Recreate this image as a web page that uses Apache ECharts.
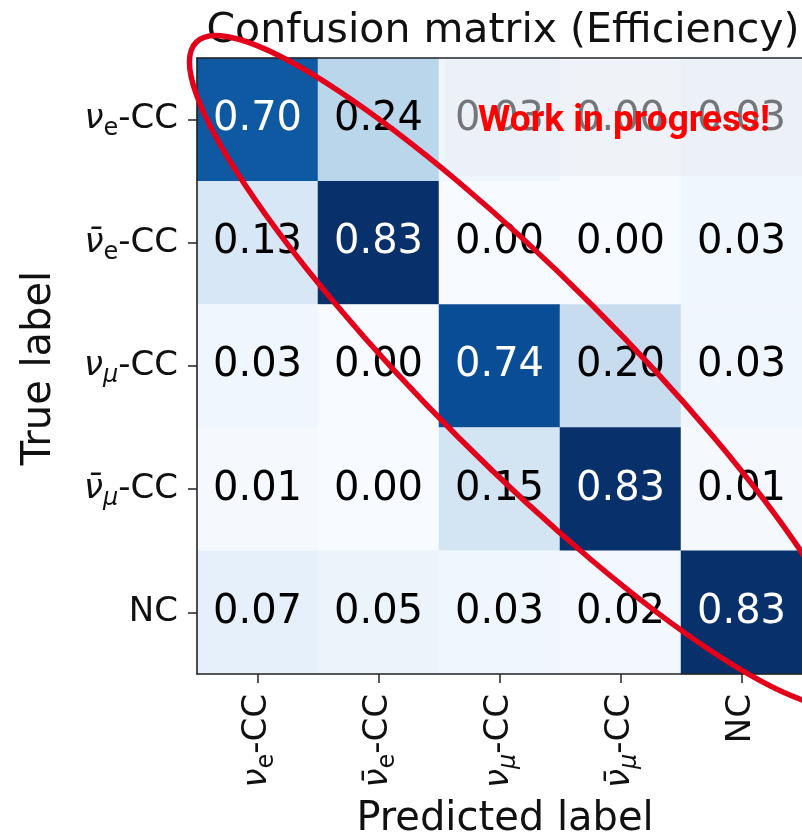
<!DOCTYPE html>
<html>
<head>
<meta charset="utf-8">
<script src="https://cdn.jsdelivr.net/npm/echarts@6/dist/echarts.min.js"></script>
<style>
  html, body { margin: 0; padding: 0; background: #ffffff; }
  #chart { width: 802px; height: 840px; }
</style>
</head>
<body>
<div id="chart"></div>
<script>
// Event classes (same order on both axes)
const classes = ['nue-CC', 'nuebar-e-CC', 'numu-CC', 'numubar-CC', 'NC'];
const classLabels = [
  '{nu|ν}{sub|e}{t|-CC}',
  '{nu|ν\u0304}{sub|e}{t|-CC}',
  '{nu|ν}{subi|μ}{t|-CC}',
  '{nu|ν\u0304}{subi|μ}{t|-CC}',
  '{t|NC}'
];

// Efficiency per true class (rows), predicted class in columns
const rowNueCC     = [0.70, 0.24, 0.03, 0.00, 0.03];
const rowNuebarCC  = [0.13, 0.83, 0.00, 0.00, 0.03];
const rowNumuCC    = [0.03, 0.00, 0.74, 0.20, 0.03];
const rowNumubarCC = [0.01, 0.00, 0.15, 0.83, 0.01];
const rowNC        = [0.07, 0.05, 0.03, 0.02, 0.83];

const titleText = 'Confusion matrix (Efficiency)';
const xName = 'Predicted label';
const yName = 'True label';
const stampText = 'Work in progress!';

// "Blues" colour ramp
const blues = ['#f7fbff', '#deebf7', '#c6dbef', '#9ecae1', '#6baed6',
               '#4292c6', '#2171b5', '#08519c', '#08306b'];

const rows = [rowNueCC, rowNuebarCC, rowNumuCC, rowNumubarCC, rowNC];
const vmax = Math.max(...rows.flat());
const cells = [];
rows.forEach((r, i) => r.forEach((v, j) => {
  cells.push({ value: [j, i, v], label: { color: v > vmax / 2 ? '#ffffff' : '#000000' } });
}));

const FONT = 'DejaVu Sans';
const tickRich = {
  nu:   { fontFamily: FONT, fontStyle: 'italic', fontSize: 34, color: '#111' },
  sub:  { fontFamily: FONT, fontSize: 24, padding: [19, 0, 0, 0], color: '#111' },
  subi: { fontFamily: FONT, fontStyle: 'italic', fontSize: 24, padding: [19, 0, 0, 0], color: '#111' },
  t:    { fontFamily: FONT, fontSize: 34, color: '#111' }
};
const spine = { show: true, lineStyle: { color: '#222', width: 1.6 } };
const ticks = { show: true, alignWithLabel: true, length: 9, inside: false, lineStyle: { color: '#222', width: 1.5 } };

const chart = echarts.init(document.getElementById('chart'), null, { renderer: 'canvas' });
chart.setOption({
  animation: false,
  backgroundColor: '#ffffff',
  grid: { left: 197, top: 58, width: 615, height: 616, containLabel: false },
  xAxis: [{
    type: 'category', data: classes, position: 'bottom', z: 10,
    axisLine: spine, axisTick: ticks, splitLine: { show: false },
    axisLabel: { rotate: 90, margin: 20, formatter: (v, i) => classLabels[i], rich: tickRich }
  }, {
    type: 'category', data: classes, position: 'top', z: 10,
    axisLine: spine, axisTick: { show: false }, axisLabel: { show: false }, splitLine: { show: false }
  }],
  yAxis: {
    type: 'category', data: classes, inverse: true, z: 10,
    axisLine: spine, axisTick: ticks, splitLine: { show: false },
    axisLabel: { margin: 19, formatter: (v, i) => classLabels[i], rich: tickRich }
  },
  visualMap: { show: false, type: 'continuous', min: 0, max: vmax, dimension: 2, inRange: { color: blues } },
  series: [{
    type: 'heatmap',
    data: cells,
    itemStyle: { borderWidth: 0 },
    label: {
      show: true, fontFamily: FONT, fontSize: 40,
      formatter: p => p.value[2].toFixed(2)
    },
    emphasis: { disabled: true }
  }],
  graphic: [
    { type: 'text', x: 503, y: 31, z: 100,
      style: { text: titleText, font: '41px "DejaVu Sans"', fill: '#111', textAlign: 'center', textVerticalAlign: 'middle' } },
    { type: 'text', x: 505, y: 820, z: 100,
      style: { text: xName, font: '40px "DejaVu Sans"', fill: '#111', textAlign: 'center', textVerticalAlign: 'middle' } },
    { type: 'text', x: 40, y: 368, rotation: Math.PI / 2, z: 100,
      style: { text: yName, font: '40px "DejaVu Sans"', fill: '#111', textAlign: 'center', textVerticalAlign: 'middle' } },
    // translucent backing of the stamp
    { type: 'rect', z: 90, shape: { x: 445, y: 60, width: 360, height: 116 },
      style: { fill: 'rgba(232,236,242,0.5)' } },
    { type: 'text', x: 624, y: 122, z: 110,
      style: { text: stampText, font: 'bold 37px Roboto', fill: '#ff0000', textAlign: 'center', textVerticalAlign: 'middle' } },
    // red outline around the diagonal
    { type: 'ellipse', z: 120, x: 525, y: 371, rotation: -Math.PI / 4,
      shape: { cx: 0, cy: 0, rx: 465, ry: 94 },
      style: { fill: 'none', stroke: '#e3001b', lineWidth: 5.5 } }
  ]
});
</script>
</body>
</html>
